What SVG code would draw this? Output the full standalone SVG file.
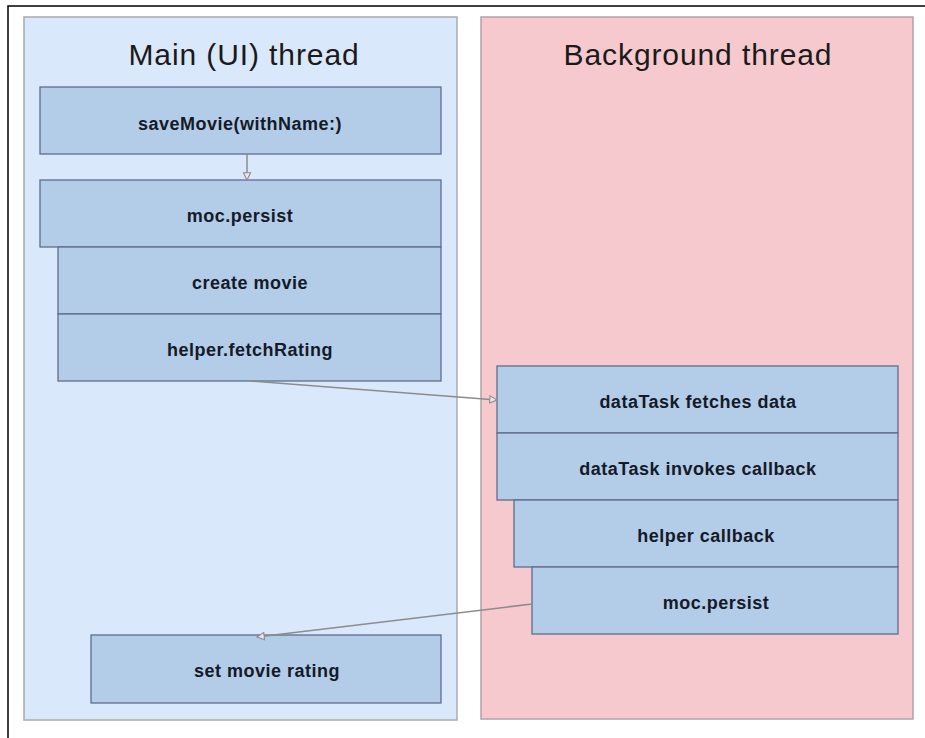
<svg xmlns="http://www.w3.org/2000/svg" width="925" height="738" viewBox="0 0 925 738">
<defs>
<style>
.panel-l{fill:#dae8fc;stroke:#a8abb0;stroke-width:1.5}
.panel-r{fill:#f5c9cd;stroke:#b0a3a6;stroke-width:1.5}
.title{font-family:"Liberation Sans",Arial,sans-serif;font-size:30px;letter-spacing:0.9px;fill:#1a1a1a;text-anchor:middle}
.node rect{fill:#b3cce8;stroke:#5f6f8c;stroke-width:1.3}
.node text{font-family:"Liberation Sans",Arial,sans-serif;font-size:18px;letter-spacing:0.5px;font-weight:bold;fill:#151a28;text-anchor:middle;dominant-baseline:central}
.conn{stroke:#8c8c8c;stroke-width:1.5;fill:none;marker-end:url(#arr)}
</style>
<marker id="arr" viewBox="0 0 10 10" refX="9" refY="5" markerWidth="9" markerHeight="9" orient="auto" markerUnits="userSpaceOnUse">
<path d="M1,1 L9,5 L1,9 Z" fill="#e8e8ee" stroke="#8c8c8c" stroke-width="1.2"/>
</marker>
</defs>
<rect x="0" y="0" width="925" height="738" fill="#ffffff"/>
<rect x="8" y="6" width="930" height="745" fill="none" stroke="#000" stroke-width="1.5"/>
<g id="main-thread">
<rect class="panel-l" x="24" y="17" width="433" height="703"/>
<text class="title" x="244" y="65">Main (UI) thread</text>
</g>
<g id="background-thread">
<rect class="panel-r" x="481" y="17" width="432" height="702"/>
<text class="title" x="698" y="65">Background thread</text>
</g>
<g id="saveMovie" class="node"><rect x="40" y="87" width="401" height="67"/><text x="240" y="124">saveMovie(withName:)</text></g>
<g id="moc-persist-main" class="node"><rect x="40" y="180" width="401" height="67"/><text x="240" y="216">moc.persist</text></g>
<g id="create-movie" class="node"><rect x="58" y="247" width="383" height="67"/><text x="250" y="283">create movie</text></g>
<g id="fetchRating" class="node"><rect x="58" y="314" width="383" height="67"/><text x="250" y="350">helper.fetchRating</text></g>
<g id="set-rating" class="node"><rect x="91" y="635" width="350" height="68"/><text x="267" y="671">set movie rating</text></g>
<g id="fetches-data" class="node"><rect x="497" y="366" width="401" height="67"/><text x="698" y="402">dataTask fetches data</text></g>
<g id="invokes-callback" class="node"><rect x="497" y="433" width="401" height="67"/><text x="698" y="469">dataTask invokes callback</text></g>
<g id="helper-callback" class="node"><rect x="514" y="500" width="384" height="67"/><text x="706" y="536">helper callback</text></g>
<g id="moc-persist-bg" class="node"><rect x="532" y="567" width="366" height="67"/><text x="716" y="603">moc.persist</text></g>
<g id="connectors">
<path class="conn" d="M247,154 L247,180"/>
<path class="conn" d="M250,381 L497,400"/>
<path class="conn" d="M532,604 L257,637"/>
</g>
</svg>
